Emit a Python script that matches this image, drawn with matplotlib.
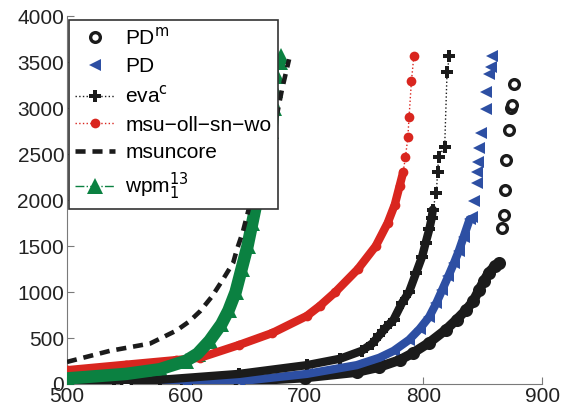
import matplotlib
matplotlib.use("Agg")
import matplotlib.pyplot as plt
import numpy as np

plt.rcParams["font.family"] = ["Liberation Sans", "DejaVu Sans"]

BLACK = "#1b1b1b"; BLUE = "#2d4fa3"; RED = "#d9261f"; GREEN = "#0b8141"; AXC = "#7a7a7a"

# PD^m  (circles)
pdm_x = [500, 550, 600, 645, 700, 744, 763, 780, 791, 805, 819, 828, 836, 842, 847, 851, 855, 860, 864,
         866, 868, 869, 870, 872, 874, 875, 876]
pdm_y = [0, 5, 15, 30, 70, 130, 185, 260, 335, 450, 590, 700, 805, 900, 1025, 1120, 1210, 1280, 1320,
         1700, 1840, 2110, 2440, 2765, 3005, 3030, 3260]
# PD  (left triangles)
pd_x = [500, 600, 645, 702, 744, 763, 775, 788, 797, 805, 811, 816, 821, 826, 830, 834, 839,
        841, 843, 845, 845, 846, 847, 849, 853, 853, 855, 857, 858]
pd_y = [0, 10, 30, 110, 205, 285, 360, 480, 600, 730, 880, 1025, 1170, 1320, 1450, 1600, 1790,
        1820, 1990, 2190, 2300, 2410, 2570, 2730, 2985, 3170, 3370, 3450, 3560]
# eva^c  (plus)
eva_x = [500, 540, 578, 645, 702, 730, 748, 757, 763, 769, 775, 782, 788, 794, 799, 802, 805, 807, 808,
         811, 812, 813, 818, 820, 822]
eva_y = [0, 20, 45, 110, 205, 275, 360, 440, 530, 620, 700, 880, 1000, 1210, 1385, 1535, 1680, 1800, 1895,
         2080, 2300, 2470, 2580, 3390, 3560]
# msu-oll-sn-wo  (dots)
msu_x = [500, 550, 592, 612, 645, 673, 702, 713, 726, 745, 760, 770, 776, 780, 783, 785, 787, 788, 790, 792]
msu_y = [150, 210, 260, 285, 425, 555, 740, 850, 1000, 1250, 1500, 1750, 1950, 2150, 2300, 2470, 2680,
         2900, 3290, 3560]
# msuncore  (dashed)
core_x = [500, 536, 570, 592, 603, 612, 622, 631, 640, 643, 648, 652, 656, 660, 667, 672, 676, 681, 687]
core_y = [240, 360, 440, 580, 680, 790, 950, 1130, 1320, 1460, 1650, 1850, 2050, 2200, 2450, 2650,
          2875, 3200, 3530]
# wpm_1^13  (triangles)
wpm_x = [500, 550, 578, 600, 610, 620, 630, 636, 642, 647, 652, 656, 660, 664, 669, 672, 674, 675,
         677, 679, 680]
wpm_y = [60, 110, 160, 250, 330, 470, 650, 800, 1000, 1250, 1500, 1750, 2000, 2250, 2500, 2750,
         3000, 3200, 3350, 3500, 3560]

fig = plt.figure(figsize=(5.7, 4.15), dpi=100)
ax = fig.add_axes([0.1175, 0.0747, 0.8335, 0.8867])

def band(x, y, ymax, c, lw):
    # dense part of the curve: markers merge into a solid band
    xs = [a for a, b in zip(x, y) if b <= ymax]
    ys = [b for b in y if b <= ymax]
    ax.plot(xs, ys, "-", color=c, lw=lw, solid_capstyle="round", zorder=3.5)

ax.plot(pdm_x, pdm_y, "o", ls="none", color=BLACK, mfc="white", mew=2.4, ms=7, label="PD$^{\\rm m}$", zorder=3)
band(pdm_x, pdm_y, 1320, BLACK, 7)
ax.plot(pd_x, pd_y, "<", ls="none", color=BLUE, ms=8, mew=0, label="PD", zorder=3)
band(pd_x, pd_y, 1800, BLUE, 6)
ax.plot(eva_x, eva_y, "P", ls=":", lw=1, color=BLACK, ms=8, mew=0, label="eva$^{\\rm c}$", zorder=3)
band(eva_x, eva_y, 1900, BLACK, 6)
ax.plot(msu_x, msu_y, "o", ls=":", lw=1, color=RED, ms=7, mew=0, label="msu\u2212oll\u2212sn\u2212wo", zorder=3)
band(msu_x, msu_y, 2300, RED, 6)
ax.plot(core_x, core_y, "--", color=BLACK, lw=3.3, dashes=(2.2, 1.5), label="msuncore", zorder=4)
ax.plot(wpm_x, wpm_y, "^", ls="-.", lw=1, color=GREEN, ms=11, mew=0, label="wpm$_1^{13}$", zorder=3)
band(wpm_x, wpm_y, 3000, GREEN, 9)

ax.set_xlim(500, 900)
ax.set_ylim(0, 4000)
ax.set_xticks([500, 600, 700, 800, 900])
ax.set_yticks(np.arange(0, 4001, 500))
for s in ["top", "right"]:
    ax.spines[s].set_visible(False)
for s in ["left", "bottom"]:
    ax.spines[s].set_color(AXC)
ax.tick_params(direction="in", length=5, color=AXC, labelsize=15, labelcolor="#222222", pad=2)
ax.set_xlabel("solved instances", fontsize=15, color="#222222", labelpad=10)

leg = ax.legend(loc="upper left", bbox_to_anchor=(0.004, 0.989), fontsize=15, frameon=True, fancybox=False,
                edgecolor="#333333", framealpha=1, handlelength=1.9, borderpad=0.3, labelspacing=0.42,
                handletextpad=0.5, borderaxespad=0)
leg.get_frame().set_linewidth(1.2)
leg.set_zorder(10)

fig.savefig("out.png", dpi=100)
